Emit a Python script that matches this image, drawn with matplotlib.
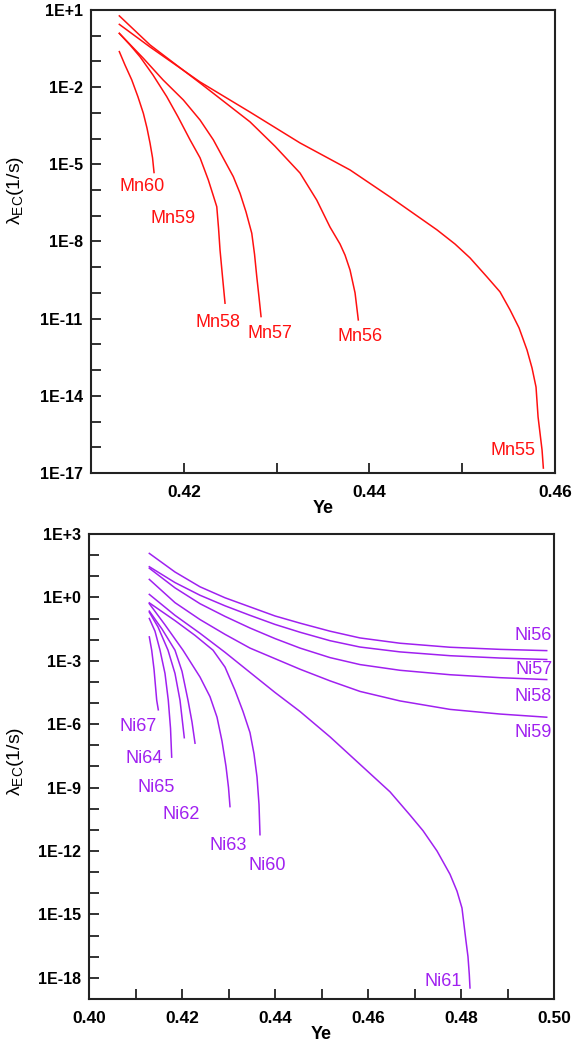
import numpy as np
import matplotlib
matplotlib.use('Agg')
import matplotlib.pyplot as plt
from matplotlib.ticker import FixedLocator, FuncFormatter, NullFormatter

plt.rcParams['font.family'] = ['Liberation Sans', 'DejaVu Sans']
plt.rcParams['mathtext.fontset'] = 'custom'
plt.rcParams['mathtext.rm'] = 'Liberation Sans'

# ---- top panel: Mn isotopes, Ye vs log10(lambda_EC) ----
mn55_ye = [0.41305, 0.41636, 0.42175, 0.42713, 0.43252, 0.43791, 0.44222, 0.44728, 0.44922,
           0.45084, 0.45267, 0.45407, 0.45515, 0.45612, 0.45698, 0.45752, 0.45795, 0.45817,
           0.4586, 0.45874]
mn55_lg = [0.44, -0.44, -1.80, -2.97, -4.17, -5.22, -6.27, -7.55, -8.10,
           -8.64, -9.38, -9.96, -10.66, -11.36, -12.22, -12.92, -13.66, -14.82,
           -16.11, -16.81]
mn56_ye = [0.41305, 0.41636, 0.42175, 0.42713, 0.42983, 0.43252, 0.43432, 0.43575, 0.43683,
           0.43737, 0.43791, 0.43845, 0.4388]
mn56_lg = [0.77, -0.36, -1.84, -3.35, -4.3, -5.34, -6.39, -7.44, -8.1,
           -8.53, -9.11, -10.0, -11.05]
mn57_ye = [0.41305, 0.41564, 0.41776, 0.41995, 0.42175, 0.42318, 0.42533, 0.42606, 0.4267,
           0.42732, 0.42762, 0.42786, 0.4281, 0.42832]
mn57_lg = [0.09, -0.88, -1.72, -2.5, -3.28, -4.05, -5.48, -6.13, -6.85,
           -7.68, -8.5, -9.37, -10.16, -10.92]
mn58_ye = [0.41305, 0.4142, 0.41528, 0.41668, 0.41816, 0.41938, 0.42067, 0.42175, 0.42264,
           0.42315, 0.42355, 0.42374, 0.4239, 0.42417, 0.42444]
mn58_lg = [0.09, -0.36, -0.82, -1.53, -2.37, -3.16, -4.05, -4.75, -5.61,
           -6.19, -6.65, -7.48, -8.33, -9.38, -10.4]
mn60_ye = [0.41305, 0.41366, 0.41439, 0.41506, 0.41564, 0.41603, 0.41636, 0.41663, 0.41679]
mn60_lg = [-0.62, -1.14, -1.72, -2.38, -3.02, -3.59, -4.18, -4.75, -5.32]

mn_curves = [(mn55_ye, mn55_lg), (mn56_ye, mn56_lg), (mn57_ye, mn57_lg),
             (mn58_ye, mn58_lg), (mn60_ye, mn60_lg)]
mn_labels = ['Mn60', 'Mn59', 'Mn58', 'Mn57', 'Mn56', 'Mn55']

# ---- bottom panel: Ni isotopes ----
flat_ye = [0.41297, 0.41849, 0.42387, 0.42925, 0.43462, 0.44, 0.44538, 0.45183, 0.45828,
           0.46688, 0.47763, 0.48839, 0.49843]
ni56_lg = [2.08, 1.2, 0.5, -0.02, -0.45, -0.88, -1.22, -1.6, -1.92, -2.17, -2.36, -2.46, -2.52]
ni57_lg = [1.45, 0.7, 0.1, -0.4, -0.85, -1.28, -1.65, -2.05, -2.35, -2.58, -2.76, -2.87, -2.94]
ni58_lg = [1.38, 0.45, -0.3, -0.9, -1.45, -1.95, -2.4, -2.85, -3.18, -3.45, -3.66, -3.8, -3.89]
ni59_lg = [0.85, -0.25, -1.05, -1.75, -2.4, -2.9, -3.4, -3.95, -4.45, -4.9, -5.3, -5.52, -5.67]
ni61_ye = [0.41297, 0.41849, 0.42387, 0.42925, 0.43462, 0.44, 0.44538, 0.45183, 0.45828,
           0.46473, 0.46903, 0.47183, 0.47484, 0.47763, 0.47914, 0.48021, 0.48107, 0.4815,
           0.48178, 0.48193]
ni61_lg = [0.14, -0.85, -1.7, -2.6, -3.55, -4.5, -5.4, -6.6, -7.9,
           -9.2, -10.3, -11.04, -12.0, -13.1, -13.9, -14.7, -16.26, -17.0,
           -17.84, -18.48]
ni60_ye = [0.41297, 0.41849, 0.4228, 0.42667, 0.42925, 0.4314, 0.43312, 0.43462, 0.43548,
           0.43613, 0.43656, 0.43677]
ni60_lg = [-0.26, -1.1, -1.8, -2.5, -3.3, -4.4, -5.4, -6.4, -7.4, -8.5, -9.8, -11.23]
ni63_ye = [0.41297, 0.41634, 0.42021, 0.42387, 0.42602, 0.42753, 0.4286, 0.42946, 0.43, 0.43032]
ni63_lg = [-0.3, -1.3, -2.5, -3.77, -4.7, -5.67, -6.8, -8.0, -9.0, -9.9]
ni62_ye = [0.41297, 0.4157, 0.41849, 0.42, 0.42129, 0.42215, 0.4228]
ni62_lg = [-0.65, -1.5, -2.5, -3.5, -4.87, -5.9, -6.9]
ni65_ye = [0.41297, 0.41484, 0.41699, 0.41849, 0.41957, 0.42049]
ni65_lg = [-0.7, -1.4, -2.5, -3.6, -4.87, -6.64]
ni64_ye = [0.41297, 0.41419, 0.41527, 0.41634, 0.41705, 0.41753, 0.41778]
ni64_lg = [-1.0, -1.6, -2.5, -3.6, -4.87, -6.2, -7.56]
ni67_ye = [0.41297, 0.41348, 0.41398, 0.41456, 0.4149]
ni67_lg = [-1.87, -2.5, -3.4, -4.87, -5.32]

ni_curves = [(flat_ye, ni56_lg), (flat_ye, ni57_lg), (flat_ye, ni58_lg), (flat_ye, ni59_lg),
             (ni61_ye, ni61_lg), (ni60_ye, ni60_lg), (ni63_ye, ni63_lg), (ni62_ye, ni62_lg),
             (ni65_ye, ni65_lg), (ni64_ye, ni64_lg), (ni67_ye, ni67_lg)]
ni_labels = ['Ni56', 'Ni57', 'Ni58', 'Ni59', 'Ni67', 'Ni64', 'Ni65', 'Ni62', 'Ni63', 'Ni60', 'Ni61']

# label anchor points (Ye, log10 lambda)
mn_pos = [(0.4155, -5.88), (0.41884, -7.09), (0.42369, -11.17), (0.42929, -11.56),
          (0.43899, -11.71), (0.45547, -16.11)]
ni_pos = [(0.49957, -1.79), (0.49978, -3.40), (0.49957, -4.69), (0.49957, -6.39),
          (0.41054, -6.11), (0.41194, -7.63), (0.41452, -9.00), (0.41978, -10.28),
          (0.42989, -11.75), (0.43828, -12.70), (0.47613, -18.16)]
ni_ha = ['right'] * 4 + ['center'] * 7

red = '#FF1010'
purple = '#A020F0'


def e_fmt(v, pos):
    return '1E%+d' % int(round(np.log10(v)))


def style_axes(ax, ymajor, yminor):
    ax.set_yscale('log')
    ax.yaxis.set_major_locator(FixedLocator([10.0 ** k for k in ymajor]))
    ax.yaxis.set_minor_locator(FixedLocator([10.0 ** k for k in yminor]))
    ax.yaxis.set_major_formatter(FuncFormatter(e_fmt))
    ax.yaxis.set_minor_formatter(NullFormatter())
    ax.tick_params(which='both', direction='in', length=7, width=1.3, color='#222222')
    ax.tick_params(axis='y', which='major', labelsize=11.5, pad=6)
    ax.tick_params(axis='x', which='major', labelsize=12.5, pad=9)
    for lab in ax.get_xticklabels() + ax.get_yticklabels():
        lab.set_fontweight('bold')
    for s in ax.spines.values():
        s.set_linewidth(1.5)
        s.set_color('#222222')
    ax.set_xlabel('Ye', fontsize=13, fontweight='bold', labelpad=0)
    ax.set_ylabel(r'$\mathregular{\lambda_{EC}}$(1/s)', fontsize=14)


fig = plt.figure(figsize=(5.75, 10.48), dpi=100)

# top
ax1 = fig.add_axes([0.1583, 0.5487, 0.807, 0.4418])
for ye, lg in mn_curves:
    ax1.plot(ye, 10.0 ** np.array(lg), color=red, lw=1.1)
for lab, (x, y) in zip(mn_labels, mn_pos):
    ax1.text(x, 10.0 ** y, lab, color=red, fontsize=13, ha='center', va='center')
ax1.set_xlim(0.41, 0.46)
ax1.set_ylim(1e-17, 1e1)
ax1.set_xticks([0.42, 0.44, 0.46])
ax1.set_xticklabels(['0.42', '0.44', '0.46'])
ax1.xaxis.set_minor_locator(FixedLocator([0.43, 0.45]))
style_axes(ax1, range(1, -18, -3), range(1, -18, -1))
ax1.yaxis.set_label_coords(-0.14, 0.61)

# bottom
ax2 = fig.add_axes([0.1548, 0.0468, 0.8087, 0.4437])
for ye, lg in ni_curves:
    ax2.plot(ye, 10.0 ** np.array(lg), color=purple, lw=1.1)
for lab, (x, y), ha in zip(ni_labels, ni_pos, ni_ha):
    ax2.text(x, 10.0 ** y, lab, color=purple, fontsize=13, ha=ha, va='center')
ax2.set_xlim(0.40, 0.50)
ax2.set_ylim(1e-19, 1e3)
ax2.set_xticks([0.40, 0.42, 0.44, 0.46, 0.48, 0.50])
ax2.set_xticklabels(['0.40', '0.42', '0.44', '0.46', '0.48', '0.50'])
ax2.xaxis.set_minor_locator(FixedLocator([0.41, 0.43, 0.45, 0.47, 0.49]))
style_axes(ax2, range(3, -19, -3), range(3, -20, -1))
ax2.yaxis.set_label_coords(-0.135, 0.51)

fig.savefig('out.png', dpi=100)
